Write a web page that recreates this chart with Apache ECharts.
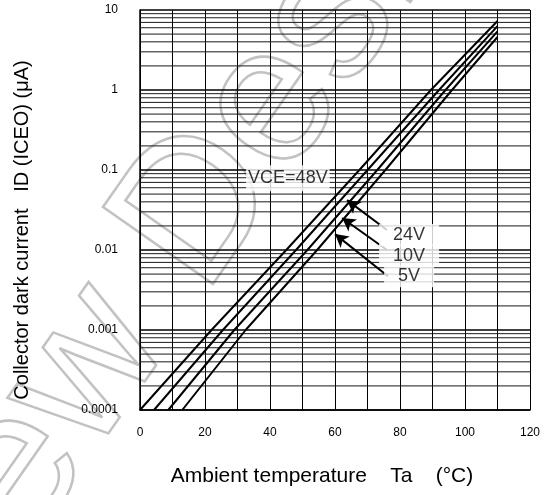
<!DOCTYPE html>
<html>
<head>
<meta charset="utf-8">
<script src="https://cdn.jsdelivr.net/npm/echarts@6/dist/echarts.min.js"></script>
<style>html,body{margin:0;padding:0;background:#fff}#c{width:549px;height:495px}</style>
</head>
<body>
<div id="c"></div>
<script>
// Series: [temperature °C, dark current µA]
const vce48 = [[0, 1e-4], [22, 1e-3], [45, 0.01], [67.5, 0.1], [89.5, 1], [110, 7.3]];
const vce24 = [[4.3, 1e-4], [25.5, 1e-3], [48, 0.01], [70, 0.1], [92, 1], [110, 6.3]];
const vce10 = [[8.7, 1e-4], [29, 1e-3], [51.5, 0.01], [73, 0.1], [94, 1], [110, 5.4]];
const vce5 = [[13, 1e-4], [32.5, 1e-3], [54.5, 0.01], [75.5, 0.1], [96, 1], [110, 4.6]];

const xTicks = [0, 20, 40, 60, 80, 100, 120];
const yTickLabels = ['0.0001', '0.001', '0.01', '0.1', '1', '10'];
const decades = [1e-4, 1e-3, 1e-2, 1e-1, 1];
const minorMult = [2, 3, 4, 5, 6, 7, 8, 9];

// annotations
const vceLabel = [{ name: 'VCE=48V', value: [45.5, 0.079] }];
const voltLabels = [
  { name: '24V', value: [82.8, 0.0154] },
  { name: '10V', value: [82.8, 0.0085] },
  { name: '5V', value: [82.8, 0.0047] }
];
const arrows = [
  [[76, 0.0178], [63.7, 0.042]],
  [[76, 0.0100], [62.2, 0.0251]],
  [[76.3, 0.0047], [60, 0.0158]]
];

const minorVals = [];
decades.forEach(d => minorMult.forEach(m => minorVals.push(+(d * m).toPrecision(6))));

const chart = echarts.init(document.getElementById('c'), null, { renderer: 'canvas' });
const font = '"Liberation Sans", Arial, Helvetica, sans-serif';
const curve = (name, data) => ({
  name, type: 'line', data, showSymbol: false, symbol: 'none', smooth: false,
  lineStyle: { color: '#000', width: 2 }, z: 5, silent: true
});
const minorLines = minorVals.map(v => ({
  type: 'line', data: [[0, v], [120, v]], showSymbol: false, symbol: 'none', silent: true,
  lineStyle: { color: '#1a1a1a', width: 1 }, z: 2
}));

// watermark geometry (rotated outline text)
const wmAngle = 55 * Math.PI / 180;

chart.setOption({
  animation: false,
  backgroundColor: '#fff',
  textStyle: { fontFamily: font },
  grid: { left: 140, right: 19, top: 10, bottom: 85 },
  graphic: [{
    type: 'text', z: 0, zlevel: 0, silent: true,
    x: -95, y: 630, rotation: wmAngle,
    style: {
      text: 'New Designs', font: '195px "Liberation Sans", Arial, sans-serif',
      textVerticalAlign: 'middle', verticalAlign: 'middle', textAlign: 'left', align: 'left',
      fill: 'rgba(0,0,0,0)', stroke: '#c2c2c2', lineWidth: 2.5
    }
  }],
  xAxis: {
    type: 'value', min: 0, max: 120, interval: 20,
    name: 'Ambient temperature    Ta    (°C)', nameLocation: 'middle', nameGap: 56,
    nameTextStyle: { fontSize: 21, color: '#000', fontFamily: font, padding: [0, 26, 0, 0] },
    axisLine: { show: true, lineStyle: { color: '#000', width: 1.5 } },
    axisTick: { show: false },
    axisLabel: { color: '#000', fontSize: 12, margin: 17, fontFamily: font,
      formatter: v => xTicks.includes(v) ? String(v) : '' },
    splitLine: { show: true, lineStyle: { color: '#000', width: 1 } },
    minorTick: { show: false, splitNumber: 2 },
    minorSplitLine: { show: true, lineStyle: { color: '#000', width: 1 } }
  },
  yAxis: {
    type: 'log', logBase: 10, min: 0.0001, max: 10,
    name: 'Collector dark current   ID (ICEO) (μA)', nameLocation: 'middle', nameGap: 108,
    nameRotate: 90,
    nameTextStyle: { fontSize: 20, color: '#000', fontFamily: font, padding: [0, 40, 0, 0] },
    axisLine: { show: true, lineStyle: { color: '#000', width: 1.5 } },
    axisTick: { show: false },
    axisLabel: { color: '#000', fontSize: 12, margin: 22, fontFamily: font,
      formatter: v => {
        const e = Math.round(Math.log10(v));
        return yTickLabels[e + 4] || '';
      } },
    splitLine: { show: true, lineStyle: { color: '#000', width: 1.5 } }
  },
  series: [
    curve('48V', vce48),
    curve('24V', vce24),
    curve('10V', vce10),
    curve('5V', vce5),
    {
      name: 'arrows', type: 'line', data: [], silent: true, z: 6,
      markLine: {
        silent: true, animation: false, symbol: ['none', 'arrow'], symbolSize: [11, 13],
        label: { show: false },
        lineStyle: { color: '#000', width: 2, type: 'solid' },
        data: arrows.map(a => [{ coord: a[0] }, { coord: a[1] }])
      }
    },
    {
      name: 'vceLabel', type: 'scatter', symbolSize: 0, silent: true, z: 7,
      data: vceLabel,
      label: {
        show: true, position: 'inside', formatter: p => p.name,
        color: '#000', fontSize: 18, fontFamily: font,
        backgroundColor: '#fff', padding: [4, 2], lineHeight: 18
      }
    },
    {
      name: 'voltLabels', type: 'scatter', symbolSize: 0, silent: true, z: 7,
      data: voltLabels,
      label: {
        show: true, position: 'inside', formatter: p => p.name,
        color: '#000', fontSize: 18, fontFamily: font,
        backgroundColor: '#fff', padding: [1, 14], lineHeight: 20
      }
    }
  ].concat(minorLines)
});
</script>
</body>
</html>
